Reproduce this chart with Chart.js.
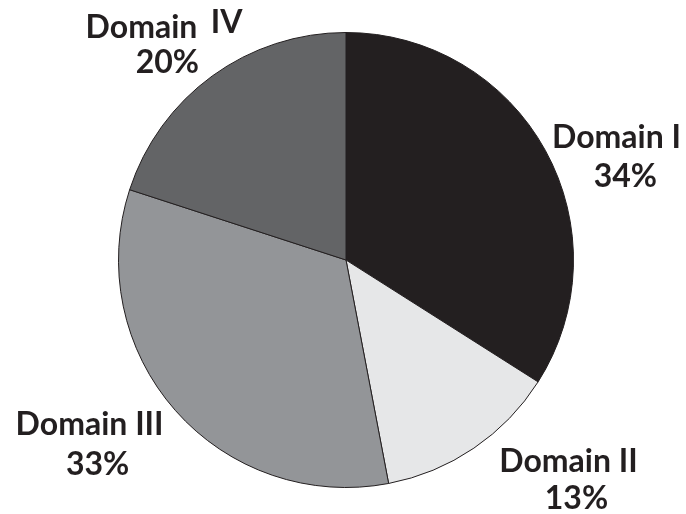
<!DOCTYPE html>
<html>
<head>
<meta charset="utf-8">
<script src="https://cdn.jsdelivr.net/npm/chart.js@4/dist/chart.umd.min.js"></script>
<style>
  html, body { margin: 0; padding: 0; background: #fff; }
  #wrap { width: 686px; height: 514px; }
</style>
</head>
<body>
<div id="wrap"><canvas id="domainPie"></canvas></div>
<script>
const domains = ['Domain I', 'Domain II', 'Domain III', 'Domain IV'];
const shares = [34, 13, 33, 20];
const sliceColors = ['#231f20', '#e6e7e8', '#939598', '#636466'];

// where each label sits, as offsets from the pie centre in units of radius
// (x = centre of text, y = baseline)
const labelSpots = [
    [{ t: 'Domain I', x: 1.189, y: -0.491 }, { t: '%', x: 1.228, y: -0.320 }],
    [{ t: 'Domain II', x: 0.978, y: 0.934 }, { t: '%', x: 1.013, y: 1.096 }],
    [{ t: 'Domain III', x: -1.127, y: 0.768 }, { t: '%', x: -1.092, y: 0.947 }],
    [{ t: 'Domain', x: -0.899, y: -0.978 }, { t: 'IV', x: -0.525, y: -0.996 },
     { t: '%', x: -0.785, y: -0.820 }]
];

const pieLabels = {
    id: 'pieLabels',
    afterDatasetsDraw(chart) {
        const ctx = chart.ctx;
        const arcs = chart.getDatasetMeta(0).data;
        ctx.save();
        ctx.fillStyle = '#231f20';
        ctx.font = 'bold 32px Lato';
        ctx.textAlign = 'center';
        ctx.textBaseline = 'alphabetic';
        arcs.forEach((arc, i) => {
            const r = arc.outerRadius;
            for (const s of labelSpots[i]) {
                const txt = s.t === '%' ? shares[i] + '%' : s.t;
                ctx.fillText(txt, arc.x + s.x * r, arc.y + s.y * r);
            }
        });
        ctx.restore();
    }
};

const ctx = document.getElementById('domainPie').getContext('2d');
new Chart(ctx, {
    type: 'pie',
    data: {
        labels: domains,
        datasets: [{
            data: shares,
            backgroundColor: sliceColors,
            borderColor: '#231f20',
            borderWidth: 1
        }]
    },
    options: {
        responsive: true,
        maintainAspectRatio: false,
        animation: false,
        layout: { padding: { top: 32, bottom: 26, left: 100, right: 94 } },
        plugins: {
            legend: { display: false },
            tooltip: { enabled: false }
        }
    },
    plugins: [pieLabels]
});
</script>
</body>
</html>
